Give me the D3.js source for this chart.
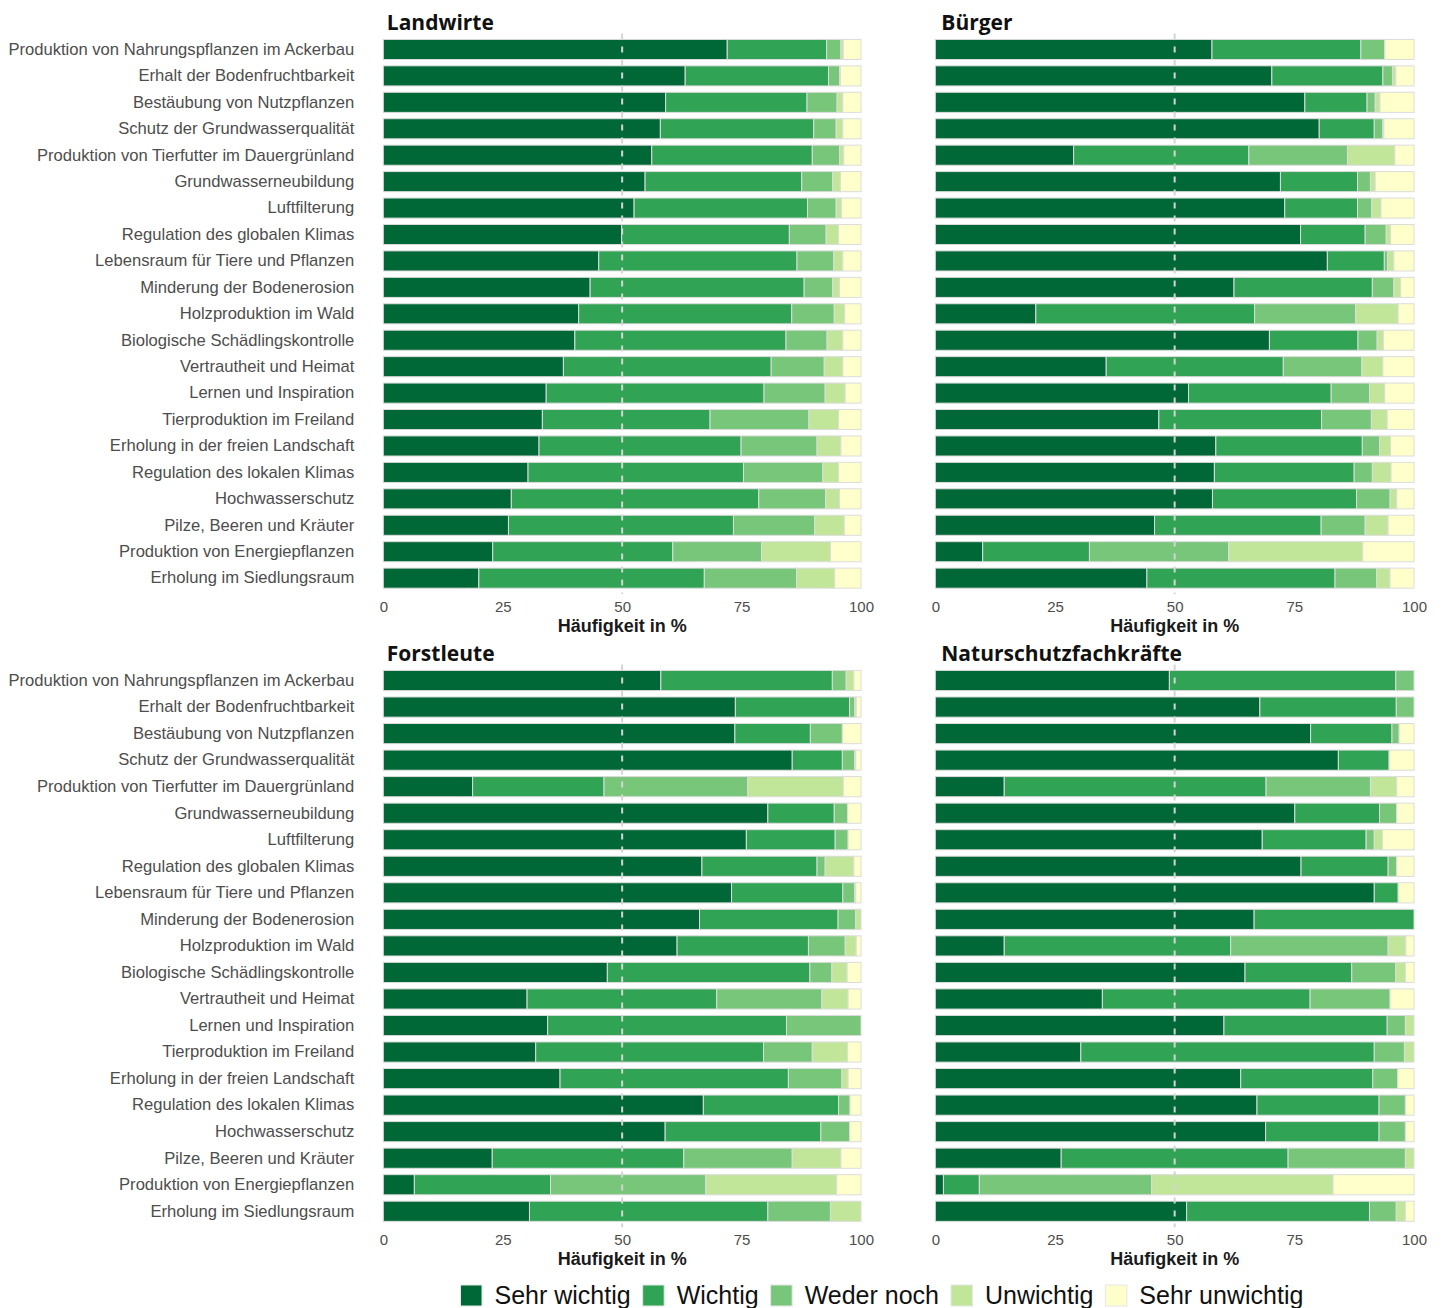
<!DOCTYPE html>
<html lang="de">
<head>
<meta charset="utf-8">
<script src="https://cdn.jsdelivr.net/npm/d3@7"></script>
<style>
  html, body { margin: 0; padding: 0; background: #ffffff; }
  svg { display: block; }
</style>
</head>
<body>
<svg id="chart" width="1443" height="1308"></svg>
<script>
// Ecosystem services, listed top to bottom
const categories = [
  "Produktion von Nahrungspflanzen im Ackerbau",
  "Erhalt der Bodenfruchtbarkeit",
  "Bestäubung von Nutzpflanzen",
  "Schutz der Grundwasserqualität",
  "Produktion von Tierfutter im Dauergrünland",
  "Grundwasserneubildung",
  "Luftfilterung",
  "Regulation des globalen Klimas",
  "Lebensraum für Tiere und Pflanzen",
  "Minderung der Bodenerosion",
  "Holzproduktion im Wald",
  "Biologische Schädlingskontrolle",
  "Vertrautheit und Heimat",
  "Lernen und Inspiration",
  "Tierproduktion im Freiland",
  "Erholung in der freien Landschaft",
  "Regulation des lokalen Klimas",
  "Hochwasserschutz",
  "Pilze, Beeren und Kräuter",
  "Produktion von Energiepflanzen",
  "Erholung im Siedlungsraum"
];

// Answer levels (stack order, left to right)
const levels = ["Sehr wichtig", "Wichtig", "Weder noch", "Unwichtig", "Sehr unwichtig"];
const levelColors = ["#006837", "#31a354", "#78c679", "#c2e699", "#ffffcc"];

// Share in % per service: [Sehr wichtig, Wichtig, Weder noch, Unwichtig, Sehr unwichtig]
const landwirte = [
  [72.0, 20.8,  3.0,  0.5, 3.7],
  [63.2, 30.0,  2.3,  0.2, 4.3],
  [59.1, 29.6,  6.3,  1.2, 3.8],
  [58.0, 32.1,  4.7,  1.4, 3.8],
  [56.2, 33.6,  5.7,  0.9, 3.6],
  [54.8, 32.8,  6.5,  1.6, 4.3],
  [52.5, 36.3,  6.0,  1.1, 4.1],
  [49.9, 35.1,  7.7,  2.6, 4.7],
  [45.1, 41.5,  7.7,  1.9, 3.8],
  [43.3, 44.8,  6.0,  1.4, 4.5],
  [40.9, 44.6,  8.9,  2.2, 3.4],
  [40.1, 44.2,  8.6,  3.3, 3.8],
  [37.7, 43.5, 11.1,  3.9, 3.8],
  [34.1, 45.6, 12.8,  4.2, 3.3],
  [33.3, 35.1, 20.7,  6.2, 4.7],
  [32.6, 42.3, 15.9,  5.0, 4.2],
  [30.3, 45.1, 16.6,  3.3, 4.7],
  [26.8, 51.8, 14.0,  2.9, 4.5],
  [26.2, 47.1, 17.0,  6.2, 3.5],
  [22.9, 37.7, 18.6, 14.4, 6.4],
  [20.0, 47.2, 19.3,  8.0, 5.5]
];

const buerger = [
  [57.8, 31.1,  5.0,  0.0,  6.1],
  [70.3, 23.2,  2.0,  0.7,  3.8],
  [77.2, 13.0,  1.7,  1.0,  7.1],
  [80.2, 11.5,  1.8,  0.2,  6.3],
  [28.9, 36.6, 20.6,  9.9,  4.0],
  [72.1, 16.1,  2.7,  1.0,  8.1],
  [73.0, 15.2,  3.0,  1.9,  6.9],
  [76.3, 13.5,  4.4,  0.9,  4.9],
  [81.9, 11.9,  0.7,  1.3,  4.2],
  [62.4, 28.9,  4.5,  1.4,  2.8],
  [21.0, 45.7, 21.1,  8.9,  3.3],
  [69.8, 18.5,  4.0,  1.3,  6.4],
  [35.7, 37.0, 16.4,  4.4,  6.5],
  [52.9, 29.8,  8.0,  3.2,  6.1],
  [46.7, 34.0, 10.4,  3.3,  5.6],
  [58.6, 30.6,  3.6,  2.3,  4.9],
  [58.3, 29.2,  3.8,  3.9,  4.8],
  [57.9, 30.1,  7.0,  1.4,  3.6],
  [45.8, 34.8,  9.2,  4.8,  5.4],
  [ 9.9, 22.3, 29.1, 28.0, 10.7],
  [44.2, 39.3,  8.7,  2.8,  5.0]
];

const forstleute = [
  [58.1, 35.9,  2.9,  1.6, 1.5],
  [73.7, 23.9,  1.1,  0.3, 1.0],
  [73.6, 15.8,  6.7,  0.0, 3.9],
  [85.6, 10.5,  2.6,  0.2, 1.1],
  [18.7, 27.5, 30.1, 20.0, 3.7],
  [80.5, 13.9,  2.8,  0.0, 2.8],
  [76.0, 18.6,  2.7,  0.0, 2.7],
  [66.7, 24.1,  1.7,  6.0, 1.5],
  [72.9, 23.3,  2.5,  0.2, 1.1],
  [66.2, 29.0,  3.7,  1.1, 0.0],
  [61.5, 27.5,  7.7,  2.3, 1.0],
  [46.9, 42.4,  4.6,  3.2, 2.9],
  [30.1, 39.7, 22.0,  5.5, 2.7],
  [34.4, 50.0, 15.6,  0.0, 0.0],
  [31.9, 47.7, 10.2,  7.4, 2.8],
  [37.0, 47.8, 11.2,  1.3, 2.7],
  [67.0, 28.3,  2.4,  0.0, 2.3],
  [59.0, 32.6,  6.0,  0.0, 2.4],
  [22.8, 40.1, 22.7, 10.2, 4.2],
  [ 6.5, 28.5, 32.5, 27.4, 5.1],
  [30.6, 49.9, 13.1,  6.4, 0.0]
];

const naturschutz = [
  [48.9, 47.3,  3.8,  0.0,  0.0],
  [67.8, 28.5,  3.7,  0.0,  0.0],
  [78.4, 17.0,  1.5,  0.0,  3.1],
  [84.2, 10.6,  0.0,  0.0,  5.2],
  [14.4, 54.7, 21.8,  5.5,  3.6],
  [75.1, 17.7,  3.6,  0.0,  3.6],
  [68.3, 21.7,  1.7,  1.7,  6.6],
  [76.4, 18.2,  1.8,  0.0,  3.6],
  [91.7,  5.0,  0.0,  0.0,  3.3],
  [66.6, 33.4,  0.0,  0.0,  0.0],
  [14.4, 47.3, 32.9,  3.7,  1.7],
  [64.7, 22.3,  9.2,  2.0,  1.8],
  [34.9, 43.4, 16.7,  0.0,  5.0],
  [60.3, 34.1,  3.8,  1.8,  0.0],
  [30.4, 61.3,  6.3,  2.0,  0.0],
  [63.8, 27.6,  5.2,  0.0,  3.4],
  [67.2, 25.5,  5.5,  0.0,  1.8],
  [69.0, 23.7,  5.5,  0.0,  1.8],
  [26.3, 47.4, 24.5,  1.8,  0.0],
  [ 1.7,  7.5, 36.0, 37.9, 16.9],
  [52.5, 38.2,  5.6,  1.9,  1.8]
];

const groupTitles = ["Landwirte", "Bürger", "Forstleute", "Naturschutzfachkräfte"];
const groupData = [landwirte, buerger, forstleute, naturschutz];
const xTicks = [0, 25, 50, 75, 100];
const xTitle = "Häufigkeit in %";

// ---- drawing ----
const svg = d3.select("#chart");

// Panel frames: plot area in page pixels
const frames = [
  { left: 383.3, right: 861,  top: 33.6,  bottom: 594,    labels: true,  titleDx: 3.5 },
  { left: 935.3, right: 1414, top: 33.6,  bottom: 594,    labels: false, titleDx: 6   },
  { left: 383.3, right: 861,  top: 664.6, bottom: 1227.2, labels: true,  titleDx: 3.5 },
  { left: 935.3, right: 1414, top: 664.6, bottom: 1227.2, labels: false, titleDx: 6   }
];

const color = d3.scaleOrdinal().domain(levels).range(levelColors);

const stack = d3.stack()
  .keys(d3.range(levels.length))
  .value((row, k) => row[k]);

groupTitles.forEach((title, gi) => {
  const f = frames[gi];
  const rows = groupData[gi];

  const x = d3.scaleLinear().domain([0, 100]).range([f.left, f.right]);
  const y = d3.scaleBand()
    .domain(categories)
    .range([f.top, f.bottom])
    .paddingInner(0.24)
    .paddingOuter(0.22);

  const g = svg.append("g").attr("class", "panel");

  // Stacked bars
  const series = stack(rows);
  g.selectAll("g.layer")
    .data(series)
    .join("g")
    .attr("class", "layer")
    .attr("fill", s => color(levels[s.key]))
    .selectAll("rect")
    .data(s => s.map((seg, i) => ({ seg, cat: categories[i] })).filter(d => d.seg[1] - d.seg[0] > 0))
    .join("rect")
    .attr("x", d => x(d.seg[0]))
    .attr("width", d => x(d.seg[1]) - x(d.seg[0]))
    .attr("y", d => y(d.cat))
    .attr("height", y.bandwidth())
    .attr("stroke", "#dcdcdc")
    .attr("stroke-width", 1);

  // Reference line at 50 %
  g.append("line")
    .attr("x1", x(50)).attr("x2", x(50))
    .attr("y1", f.top).attr("y2", f.bottom)
    .attr("stroke", "#d4d4d4")
    .attr("stroke-width", 2)
    .attr("stroke-dasharray", "6,7");

  // Bottom axis
  const xAxis = g.append("g")
    .attr("transform", `translate(0,${f.bottom})`)
    .call(d3.axisBottom(x).tickValues(xTicks).tickFormat(d3.format("d")).tickSize(0).tickPadding(7));
  xAxis.select(".domain").remove();
  xAxis.selectAll("text")
    .attr("fill", "#4d4d4d")
    .style("font-family", "'Liberation Sans', Arial, sans-serif")
    .style("font-size", "15px");

  g.append("text")
    .attr("x", x(50))
    .attr("y", f.bottom + 38)
    .attr("text-anchor", "middle")
    .style("font-family", "'Liberation Sans', Arial, sans-serif")
    .style("font-size", "18px")
    .style("font-weight", "bold")
    .attr("fill", "#1a1a1a")
    .text(xTitle);

  // Category labels on the left panels
  if (f.labels) {
    const yAxis = g.append("g")
      .attr("transform", `translate(${f.left},0)`)
      .call(d3.axisLeft(y).tickSize(0).tickPadding(29));
    yAxis.select(".domain").remove();
    yAxis.selectAll("text")
      .attr("fill", "#4d4d4d")
      .style("font-family", "'Liberation Sans', Arial, sans-serif")
      .style("font-size", "16.6px");
  }

  // Panel title
  g.append("text")
    .attr("x", f.left + f.titleDx)
    .attr("y", f.top - 3.5)
    .style("font-family", "'Open Sans', 'Noto Sans', sans-serif")
    .style("font-size", "21px")
    .style("font-weight", "bold")
    .attr("fill", "#111111")
    .text(title);
});

// Legend along the bottom
const legend = svg.append("g").attr("class", "legend");
let lx = 460.5;
levels.forEach((lev, i) => {
  legend.append("rect")
    .attr("x", lx).attr("y", 1285)
    .attr("width", 21.5).attr("height", 21)
    .attr("fill", levelColors[i])
    .attr("stroke", "#e6e6e6")
    .attr("stroke-width", 1);
  const t = legend.append("text")
    .attr("x", lx + 34)
    .attr("y", 1304)
    .style("font-family", "'Liberation Sans', Arial, sans-serif")
    .style("font-size", "25px")
    .attr("fill", "#111111")
    .text(lev);
  lx = lx + 34 + t.node().getComputedTextLength() + 12;
});
</script>
</body>
</html>
